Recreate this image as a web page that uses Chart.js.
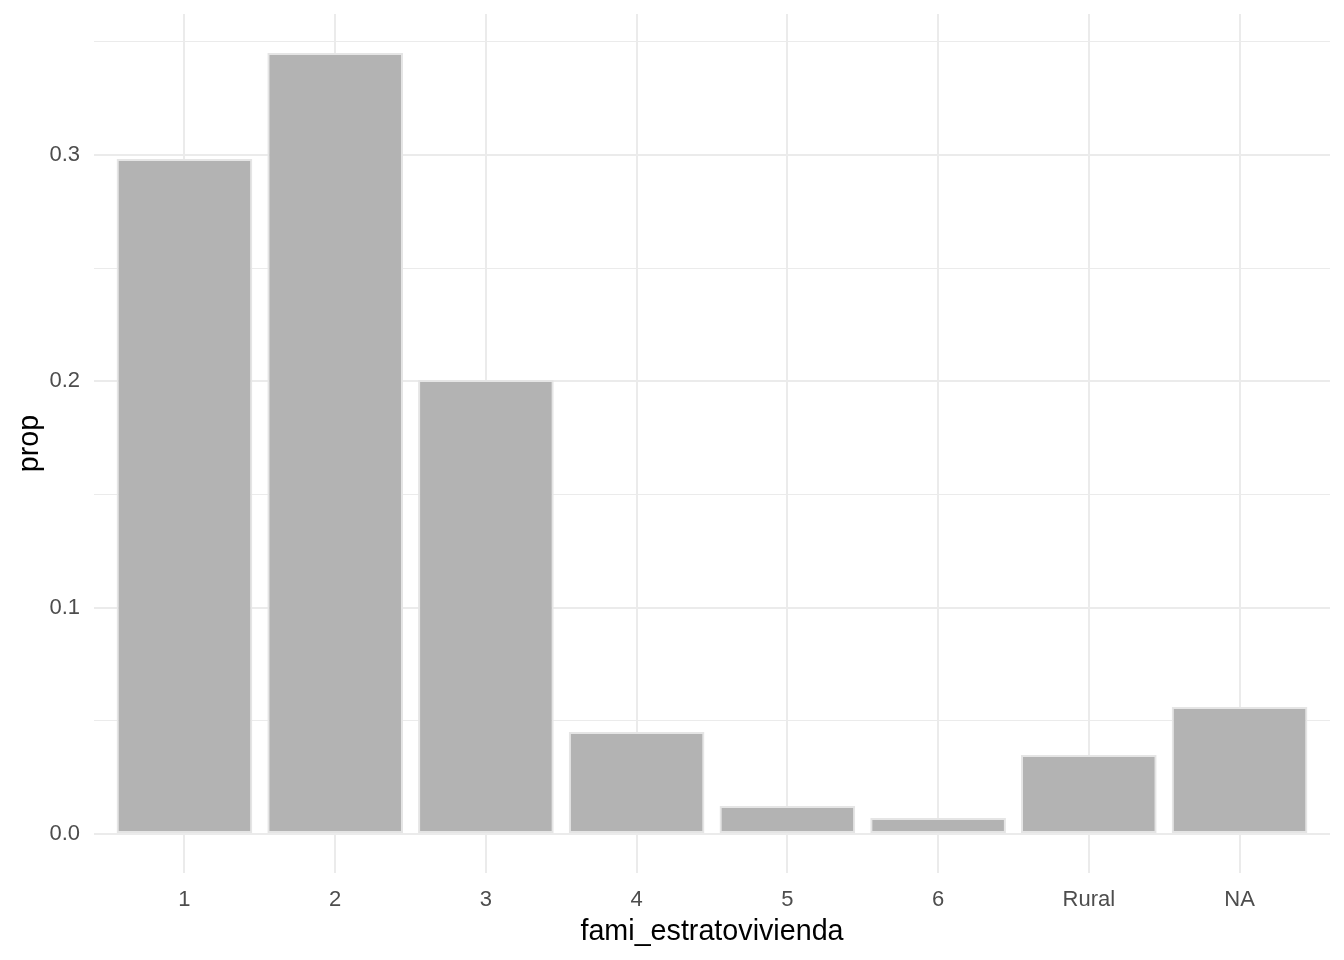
<!DOCTYPE html>
<html>
<head>
<meta charset="utf-8">
<script src="https://cdn.jsdelivr.net/npm/chart.js@4/dist/chart.umd.min.js"></script>
<style>
  html, body { margin: 0; padding: 0; background: #fff; }
  #wrap { width: 1344px; height: 960px; }
</style>
</head>
<body>
<div id="wrap"><canvas id="chart" width="1344" height="960"></canvas></div>
<script>
// data
const categories = ['1', '2', '3', '4', '5', '6', 'Rural', 'NA'];
const propValues = [0.2983, 0.3451, 0.2006, 0.0451, 0.0124, 0.0071, 0.0349, 0.0561];
const yTicks = [0, 0.05, 0.1, 0.15, 0.2, 0.25, 0.3, 0.35];

const yMax = Math.max(...propValues);
const yPad = yMax * 0.05;

const isMajor = v => Math.abs(v * 10 - Math.round(v * 10)) < 1e-6;
const font = 'Liberation Sans, Arial, sans-serif';

const ctx = document.getElementById('chart');

new Chart(ctx, {
  type: 'bar',
  data: {
    datasets: [{
      label: 'prop',
      data: propValues.map((v, i) => ({ x: i, y: v })),
      backgroundColor: '#B3B3B3',
      borderColor: '#E5E5E5',
      borderWidth: 2,
      borderSkipped: false,
      barPercentage: 0.9,
      categoryPercentage: 1.0
    }]
  },
  options: {
    responsive: false,
    animation: false,
    layout: { padding: { top: 14, right: 14, left: 0, bottom: 0 } },
    plugins: {
      legend: { display: false },
      tooltip: { enabled: false }
    },
    scales: {
      x: {
        type: 'linear',
        offset: false,
        min: -0.6,
        max: categories.length - 1 + 0.6,
        grid: { color: '#EBEBEB', lineWidth: 2, drawTicks: false, offset: false },
        border: { display: false },
        afterBuildTicks: s => { s.ticks = categories.map((c, i) => ({ value: i })); },
        ticks: {
          color: '#4D4D4D',
          font: { family: font, size: 22 },
          padding: 14,
          maxRotation: 0,
          callback: v => categories[v]
        },
        title: {
          display: true,
          text: 'fami_estratovivienda',
          color: '#000',
          font: { family: font, size: 28.7 },
          padding: { top: 0, bottom: 11 }
        },
        afterFit: s => { s.height = 87; s.paddingLeft = 0; s.paddingRight = 0; }
      },
      y: {
        min: -yPad,
        max: yMax + yPad,
        grid: {
          color: '#EBEBEB',
          lineWidth: c => (c.tick && isMajor(c.tick.value)) ? 2 : 1,
          drawTicks: false
        },
        border: { display: false },
        afterBuildTicks: s => { s.ticks = yTicks.map(v => ({ value: v })); },
        ticks: {
          color: '#4D4D4D',
          font: { family: font, size: 22 },
          padding: 14,
          callback: v => isMajor(v) ? v.toFixed(1) : ''
        },
        title: {
          display: true,
          text: 'prop',
          color: '#000',
          font: { family: font, size: 28.7 },
          padding: { top: 13, bottom: 0 }
        },
        afterFit: s => { s.width = 94; s.paddingTop = 0; s.paddingBottom = 0; }
      }
    }
  }
});
</script>
</body>
</html>
